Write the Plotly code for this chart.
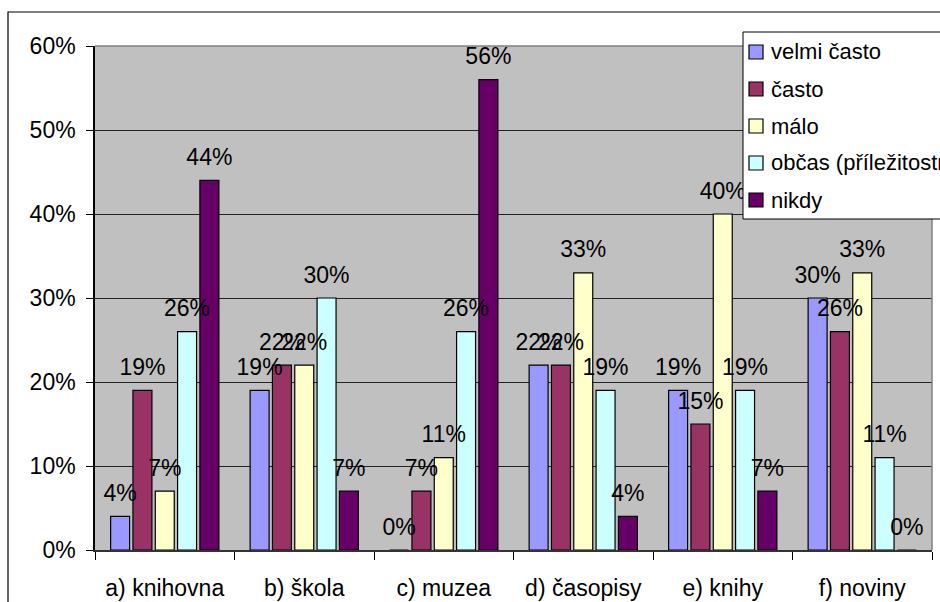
import plotly.graph_objects as go

categories = ["a) knihovna", "b) škola", "c) muzea", "d) časopisy", "e) knihy", "f) noviny"]
series_names = ["velmi často", "často", "málo", "občas (příležitostně)", "nikdy"]
velmi_casto = [4, 19, 0, 22, 19, 30]
casto = [19, 22, 7, 22, 15, 26]
malo = [7, 22, 11, 33, 40, 33]
obcas = [26, 30, 26, 19, 19, 11]
nikdy = [44, 7, 56, 4, 7, 0]
y_ticks = [0, 10, 20, 30, 40, 50, 60]

colors = ["#9999FF", "#993366", "#FFFFCC", "#CCFFFF", "#660066"]
series_values = [velmi_casto, casto, malo, obcas, nikdy]

FONT = "Liberation Sans, Arial, sans-serif"
W, H = 940, 602
ML, MR, MT, MB = 95, 8, 46, 52
PW, PH = W - ML - MR, H - MT - MB


def px_x(px):
    """Figure pixel column -> paper x."""
    return (px - ML) / PW


def px_y(py):
    """Figure pixel row -> paper y."""
    return (H - MB - py) / PH


fig = go.Figure()
for name, vals, col in zip(series_names, series_values, colors):
    fig.add_trace(go.Bar(
        name=name,
        x=categories,
        y=[v / 100 for v in vals],
        marker=dict(color=col, line=dict(color="#000000", width=1.2)),
        showlegend=False,
        hoverinfo="skip",
    ))

# value labels, grouped like the bars so each sits over its own bar;
# the invisible marker lifts the text a little above the bar top
for name, vals in zip(series_names, series_values):
    fig.add_trace(go.Scatter(
        name=name,
        x=categories,
        y=[v / 100 for v in vals],
        mode="markers+text",
        text=[f"{v}%" for v in vals],
        textposition="top center",
        textfont=dict(family=FONT, size=23, color="#000000"),
        marker=dict(size=14, color="rgba(0,0,0,0)", line=dict(width=0)),
        cliponaxis=False,
        showlegend=False,
        hoverinfo="skip",
    ))

fig.update_layout(
    width=W,
    height=H,
    margin=dict(l=ML, r=MR, t=MT, b=MB),
    paper_bgcolor="#FFFFFF",
    plot_bgcolor="#C0C0C0",
    barmode="group",
    bargap=0.2,
    bargroupgap=0.15,
    scattermode="group",
    scattergap=0.2,
    font=dict(family=FONT, size=23, color="#000000"),
    showlegend=False,
)

fig.update_yaxes(
    range=[0, 0.6],
    tickvals=[t / 100 for t in y_ticks],
    ticktext=[f"{t}%" for t in y_ticks],
    showgrid=True,
    gridcolor="#222222",
    gridwidth=1,
    zeroline=False,
    showline=True,
    linecolor="#000000",
    linewidth=1.5,
    ticks="outside",
    ticklen=7,
    tickcolor="#000000",
    ticklabelstandoff=6,
    tickfont=dict(family=FONT, size=23),
    automargin=False,
)
fig.update_xaxes(
    showgrid=False,
    showline=True,
    linecolor="#333333",
    linewidth=1.5,
    ticks="outside",
    tickson="boundaries",
    ticklen=8,
    tickcolor="#000000",
    ticklabelstandoff=17,
    tickfont=dict(family=FONT, size=23),
    automargin=False,
)

# grey frame on the top and right of the plotting area
fig.add_shape(type="line", xref="paper", yref="paper", x0=0, x1=1, y0=1, y1=1,
              line=dict(color="#808080", width=1.5), layer="above")
fig.add_shape(type="line", xref="paper", yref="paper", x0=1, x1=1, y0=0, y1=1,
              line=dict(color="#808080", width=1.5), layer="above")
# outer chart border (runs off the right and bottom edges)
fig.add_shape(type="rect", xref="paper", yref="paper",
              x0=px_x(8), x1=px_x(960), y0=px_y(620), y1=px_y(12),
              line=dict(color="#000000", width=1.2), layer="below")

# legend box, partly running off the right edge
fig.add_shape(type="rect", xref="paper", yref="paper",
              x0=px_x(743), x1=px_x(990), y0=px_y(219), y1=px_y(32),
              fillcolor="#FFFFFF", line=dict(color="#000000", width=1), layer="above")
row_y = [52, 89, 126, 163, 200]
for name, col, ry in zip(series_names, colors, row_y):
    fig.add_shape(type="rect", xref="paper", yref="paper",
                  x0=px_x(749), x1=px_x(763), y0=px_y(ry + 7), y1=px_y(ry - 7),
                  fillcolor=col, line=dict(color="#000000", width=1.2), layer="above")
    fig.add_annotation(
        xref="paper", yref="paper", x=px_x(769), y=px_y(ry),
        xanchor="left", yanchor="middle", showarrow=False,
        text=name, font=dict(family=FONT, size=22, color="#000000"),
    )

fig.write_html("out.html")
